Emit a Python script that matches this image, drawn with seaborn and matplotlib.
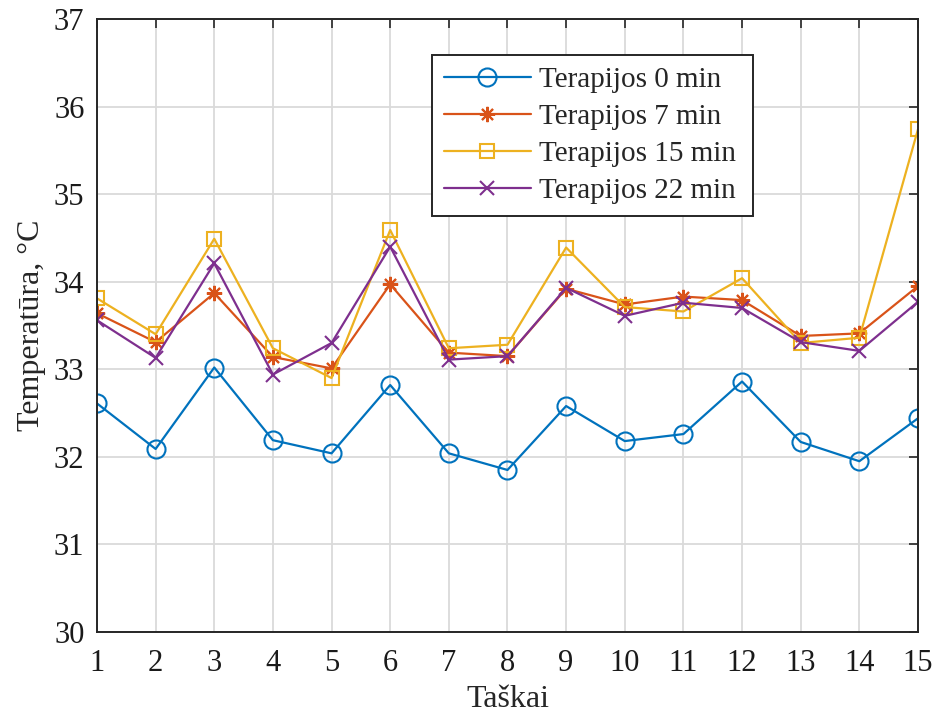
import numpy as np
import pandas as pd
import matplotlib
matplotlib.use('Agg')
import matplotlib.pyplot as plt
import seaborn as sns

# data
taskai = list(range(1, 16))
t0 = [32.61, 32.09, 33.02, 32.19, 32.04, 32.82, 32.04, 31.85, 32.58, 32.18, 32.26, 32.86, 32.17, 31.95, 32.44]
t7 = [33.64, 33.31, 33.87, 33.14, 33.01, 33.97, 33.19, 33.15, 33.92, 33.74, 33.83, 33.79, 33.38, 33.41, 33.95]
t15 = [33.81, 33.40, 34.49, 33.24, 32.90, 34.59, 33.24, 33.28, 34.39, 33.71, 33.66, 34.04, 33.30, 33.36, 35.74]
t22 = [33.56, 33.13, 34.21, 32.94, 33.30, 34.40, 33.11, 33.15, 33.93, 33.61, 33.76, 33.70, 33.31, 33.21, 33.77]
labels = ['Terapijos 0 min', 'Terapijos 7 min', 'Terapijos 15 min', 'Terapijos 22 min']

df = pd.DataFrame({'x': taskai * 4,
                   'y': t0 + t7 + t15 + t22,
                   'serija': np.repeat(labels, len(taskai))})

sns.set_style('white')
plt.rcParams['font.family'] = ['Liberation Serif', 'DejaVu Serif']

colors = ['#0072BD', '#D95319', '#EDB120', '#7E2F8E']
markers = ['o', (8, 2, 0), 's', 'x']
msizes = [13, 11, 10, 10]

fig = plt.figure(figsize=(9.37, 7.17), dpi=100)
ax = fig.add_axes([0.1035, 0.1186, 0.8762, 0.8549])

for lab, c, m, ms in zip(labels, colors, markers, msizes):
    sub = df[df['serija'] == lab]
    sns.lineplot(data=sub, x='x', y='y', ax=ax, color=c, marker=m, markersize=ms,
                 markerfacecolor='none', markeredgecolor=c, markeredgewidth=1.5,
                 linewidth=1.6, label=lab)

ax.set_xlim(1, 15)
ax.set_ylim(30, 37)
ax.set_xticks(taskai)
ax.set_yticks(range(30, 38))
ax.grid(True, color='#dadada', linewidth=1.3)
ax.set_axisbelow(True)
for s in ax.spines.values():
    s.set_color('#262626')
    s.set_linewidth(1.4)
ax.tick_params(direction='in', top=True, right=True, length=6.5, width=1.2,
               labelsize=22, colors='#262626', labelcolor='#1a1a1a')
ax.tick_params(axis='x', pad=12.5)
ax.tick_params(axis='y', pad=9)
ax.set_xlabel('Taškai', fontsize=23, labelpad=5)
ax.set_ylabel('Temperatūra, °C', fontsize=23, labelpad=6)

# legend box roughly 432-753 px wide, starting at y=55 px
leg = ax.legend(loc='upper left', bbox_to_anchor=(432 / 937, 1 - 212 / 717, 321 / 937, 157 / 717),
                bbox_transform=fig.transFigure, mode='expand',
                fontsize=21, frameon=True, fancybox=False, edgecolor='#262626',
                handlelength=3.0, borderpad=0.4, borderaxespad=0, labelspacing=0.36,
                handletextpad=0.28)
leg.get_frame().set_linewidth(1.4)
leg.get_frame().set_alpha(1)

fig.savefig('out.png', dpi=100)
